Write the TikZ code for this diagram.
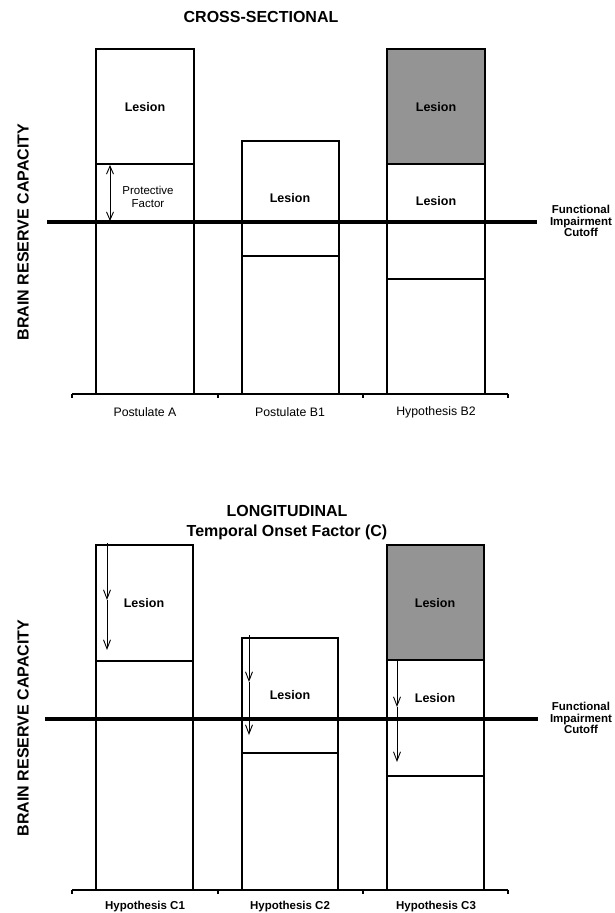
\documentclass[tikz,border=0pt]{standalone}
\usepackage{fontspec}
\setmainfont{Liberation Sans}
\usetikzlibrary{positioning,arrows.meta}

\begin{document}
\begin{tikzpicture}[x=1pt, y=-1pt, node distance=12pt]
        % Define styles
        \tikzstyle{bar} = [draw, line width=1.4pt]
        \tikzstyle{shaded} = [bar, fill=black!42]
        \tikzstyle{cutoff} = [line width=3.6pt]
        \tikzstyle{axis} = [line width=1.3pt]
        \tikzstyle{tag} = [font=\bfseries\fontsize{12.5}{14}\selectfont]
        \tikzstyle{small} = [font=\fontsize{11.5}{13}\selectfont, align=center]
        \tikzstyle{cat} = [font=\fontsize{12.3}{14}\selectfont]
        \tikzstyle{catb} = [font=\bfseries\fontsize{11.5}{14}\selectfont]
        \tikzstyle{heading} = [font=\bfseries\fontsize{16}{20}\selectfont, align=center]
        \tikzstyle{note} = [font=\bfseries\fontsize{11.5}{11.8}\selectfont, align=center]
        \tikzstyle{line} = [draw, line width=0.9pt, -{Straight Barb[length=9pt,width=7pt]}]
        \tikzstyle{dline} = [draw, line width=0.9pt, {Straight Barb[length=8pt,width=7pt]}-{Straight Barb[length=8pt,width=7pt]}]

        \useasboundingbox (0,0) rectangle (614,913);

        % Cross-sectional panel
        \node [heading] (cross) at (261,17) {CROSS-SECTIONAL};
        \node [heading, rotate=90] (capTop) at (23,232) {BRAIN RESERVE CAPACITY};

        \draw [bar] (96,49) rectangle (194,394);
        \draw [bar] (96,164) -- (194,164);
        \draw [bar] (242,141) rectangle (339,394);
        \draw [bar] (242,256) -- (339,256);
        \draw [shaded] (387,49) rectangle (485,164);
        \draw [bar] (387,164) rectangle (485,394);
        \draw [bar] (387,279) -- (485,279);

        \node [tag] (lesA) at (145,107) {Lesion};
        \node [tag] (lesB) at (290,198) {Lesion};
        \node [tag] (lesBtop) at (436,107) {Lesion};
        \node [tag] (lesBlow) at (436,201) {Lesion};
        \node [small] (protect) at (148,197) {Protective\\Factor};
        \coordinate (pfTop) at (110,165);
        \coordinate (pfBot) at (110,221);
        \path [dline] (pfTop) -- (pfBot);

        \coordinate (cutL) at (47,222);
        \coordinate (cutR) at (537,222);
        \draw [cutoff] (cutL) -- (cutR);
        \node [note] (funcTop) at (581,221) {Functional\\Impairment\\Cutoff};

        \draw [axis] (72,394) -- (508,394);
        \foreach \x in {72,218,363,508}
            \draw [axis] (\x,394) -- (\x,398);
        \node [cat] (postA) at (145,412) {Postulate A};
        \node [cat] (postB) at (290,412) {Postulate B1};
        \node [cat] (hypB) at (436,412) {Hypothesis B2};

        % Longitudinal panel
        \node [heading] (longi) at (287,523) {LONGITUDINAL\\Temporal Onset Factor (C)};
        \node [heading, rotate=90] (capBot) at (23,728) {BRAIN RESERVE CAPACITY};

        \draw [bar] (96,545) rectangle (193,890);
        \draw [bar] (96,661) -- (193,661);
        \draw [bar] (242,638) rectangle (338,890);
        \draw [bar] (242,753) -- (338,753);
        \draw [shaded] (387,545) rectangle (484,660);
        \draw [bar] (387,660) rectangle (484,890);
        \draw [bar] (387,776) -- (484,776);

        \node [tag] (lesC1) at (144,603) {Lesion};
        \node [tag] (lesC2) at (290,695) {Lesion};
        \node [tag] (lesC3top) at (435,603) {Lesion};
        \node [tag] (lesC3low) at (435,698) {Lesion};

        \coordinate (c1s) at (107,543);
        \coordinate (c1m) at (107,600);
        \coordinate (c1e) at (107,650);
        \coordinate (c2s) at (249,635);
        \coordinate (c2m) at (249,682);
        \coordinate (c2e) at (249,735);
        \coordinate (c3s) at (397,660);
        \coordinate (c3m) at (397,707);
        \coordinate (c3e) at (397,762);

        \coordinate (cutL2) at (45,719);
        \coordinate (cutR2) at (538,719);
        \draw [cutoff] (cutL2) -- (cutR2);
        \node [note] (funcBot) at (581,718) {Functional\\Impairment\\Cutoff};

        % Arrows
        \path [line] (c1s) -- (c1m);
        \path [line] (c1m) -- (c1e);
        \path [line] (c2s) -- (c2m);
        \path [line] (c2m) -- (c2e);
        \path [line] (c3s) -- (c3m);
        \path [line] (c3m) -- (c3e);

        \draw [axis] (72,890) -- (508,890);
        \foreach \x in {72,218,363,508}
            \draw [axis] (\x,890) -- (\x,894);
        \node [catb] (hypC1) at (145,907) {Hypothesis C1};
        \node [catb] (hypC2) at (290,907) {Hypothesis C2};
        \node [catb] (hypC3) at (436,907) {Hypothesis C3};

    \end{tikzpicture}
\end{document}
